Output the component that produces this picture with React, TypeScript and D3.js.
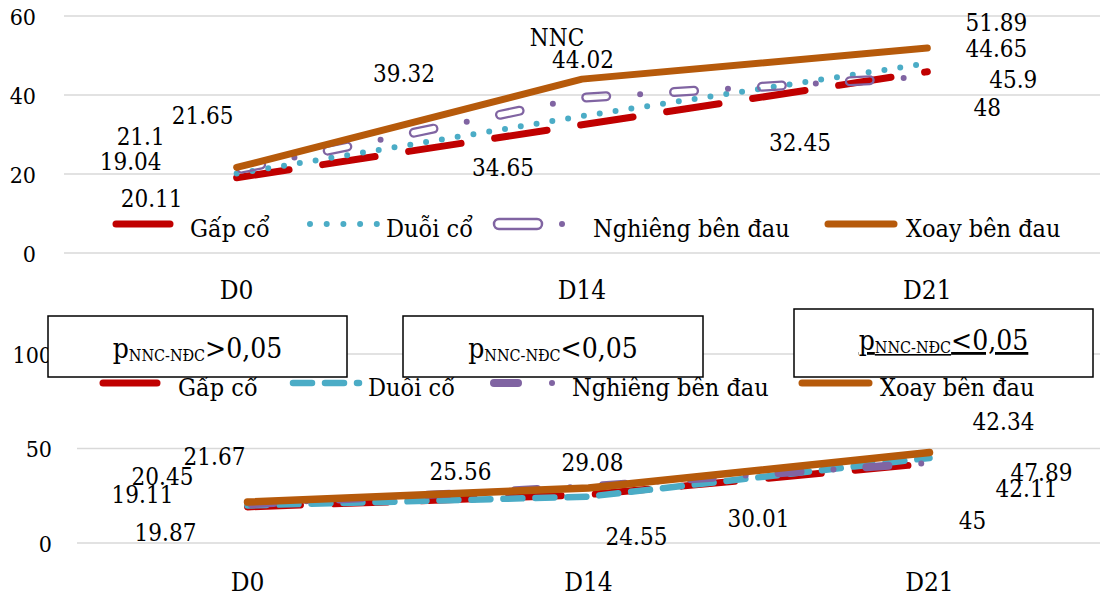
import React from "react";
import * as d3 from "d3";

const categories = ["D0", "D14", "D21"];
const seriesNames = ["Gấp cổ", "Duỗi cổ", "Nghiêng bên đau", "Xoay bên đau"];

// NNC group (top)
const nncGapCo = [19.04, 32.45, 45.9];
const nncDuoiCo = [20.11, 34.65, 48];
const nncNghieng = [21.1, 39.32, 44.65];
const nncXoay = [21.65, 44.02, 51.89];

// NĐC group (bottom)
const ndcGapCo = [19.11, 25.56, 42.11];
const ndcDuoiCo = [19.87, 24.55, 45];
const ndcNghieng = [20.45, 30.01, 42.34];
const ndcXoay = [21.67, 29.08, 47.89];

const topTicks = [0, 20, 40, 60];
const bottomTicks = [0, 50, 100];
const pNotes = [">0,05", "<0,05", "<0,05"];

const FONT = "'DejaVu Serif Condensed', 'DejaVu Serif', serif";
const RED = "#C00000";
const TEAL = "#4BACC6";
const PURPLE = "#8064A2";
const ORANGE = "#B65A0B";
const GRID = "#D9D9D9";

// label offsets (px) from each point, manually dragged in the original
const topLabelOff = [
  [[-106, -16], [218, 18], [86, 8]],
  [[-85, 25], [-79, 51], [60, 44]],
  [[-96, -33], [-178, -24], [69, -28]],
  [[-34, -52], [1, -20], [69, -26]],
];
const botLabelOff = [
  [[-105, -12], [-128, -23], [97, 25]],
  [[-82, 27], [48, 40], [43, 63]],
  [[-85, -28], [170, 32], [74, -41]],
  [[-33, -46], [4, -26], [112, 20]],
];

const topX = d3.scaleBand().domain(categories).range([64, 1100]).padding(0);
const topY = d3.scaleLinear().domain([0, 60]).range([253, 16]);
const botX = d3.scaleBand().domain(categories).range([77, 1100]).padding(0);
const botY = d3.scaleLinear().domain([0, 100]).range([543, 354]);

function pts(vals: number[], x: any, y: any): [number, number][] {
  return vals.map((v, i) => [x(categories[i]) + x.bandwidth() / 2, y(v)]);
}

const line = d3.line();

function Labels({ vals, off, x, y }: any) {
  return (
    <g>
      {pts(vals, x, y).map((p, i) => (
        <text key={i} x={p[0] + off[i][0]} y={p[1] + off[i][1] + 8.5} textAnchor="middle" fontSize={24}>
          {String(vals[i])}
        </text>
      ))}
    </g>
  );
}

export default function App() {
  const topSeries = [nncGapCo, nncDuoiCo, nncNghieng, nncXoay];
  const botSeries = [ndcGapCo, ndcDuoiCo, ndcNghieng, ndcXoay];
  const tp = topSeries.map((s) => line(pts(s, topX, topY)) as string);
  const bp = botSeries.map((s) => line(pts(s, botX, botY)) as string);

  const topLegY = 224;
  const botLegY = 383;
  const boxes = [
    { x: 48, y: 316, w: 299, h: 61, base: 358 },
    { x: 403, y: 316, w: 300, h: 61, base: 358 },
    { x: 794, y: 309, w: 299, h: 68, base: 350 },
  ];

  return (
    <div style={{ position: "absolute", left: 0, top: 0 }}>
      <svg width={1100} height={596} style={{ display: "block" }}>
        <defs>
          <mask id="hollow" maskUnits="userSpaceOnUse" x={0} y={0} width={1100} height={596}>
            <rect x={0} y={0} width={1100} height={596} fill="#fff" />
            <path d={tp[2]} fill="none" stroke="#000" strokeWidth={5.5} strokeLinecap="round"
              strokeDasharray="20 68" strokeDashoffset={-5} />
          </mask>
        </defs>
        <g style={{ fontFamily: FONT, fontStretch: "condensed" }} fill="#000">

        {/* ---------- top panel (NNC) ---------- */}
        {topTicks.map((t) => (
          <g key={t}>
            <line x1={64} x2={1100} y1={topY(t)} y2={topY(t)} stroke={GRID} strokeWidth={1.5} />
            <text x={36} y={topY(t) + 8.5} textAnchor="end" fontSize={23}>{t}</text>
          </g>
        ))}
        {categories.map((c) => (
          <text key={c} x={topX(c)! + topX.bandwidth() / 2} y={299} textAnchor="middle" fontSize={26}>{c}</text>
        ))}

        <path d={tp[0]} fill="none" stroke={RED} strokeWidth={7} strokeLinecap="round" strokeLinejoin="round" strokeDasharray="53 34" />
        <path d={tp[1]} fill="none" stroke={TEAL} strokeWidth={6} strokeLinecap="round" strokeDasharray="0 16" />
        <path d={tp[2]} fill="none" stroke={PURPLE} strokeWidth={10} strokeLinecap="round" strokeDasharray="20 68" strokeDashoffset={-5} mask="url(#hollow)" />
        <path d={tp[2]} fill="none" stroke={PURPLE} strokeWidth={6} strokeLinecap="round" strokeDasharray="0 88" strokeDashoffset={29} />
        <path d={tp[3]} fill="none" stroke={ORANGE} strokeWidth={7} strokeLinecap="round" strokeLinejoin="round" />

        <text x={topX("D14")! + topX.bandwidth() / 2 - 25} y={46} textAnchor="middle" fontSize={24}>NNC</text>
        {topSeries.map((s, i) => (
          <Labels key={i} vals={s} off={topLabelOff[i]} x={topX} y={topY} />
        ))}

        {/* top legend */}
        <line x1={116} x2={170} y1={topLegY} y2={topLegY} stroke={RED} strokeWidth={7} strokeLinecap="round" />
        <text x={190} y={topLegY + 13} fontSize={25}>{seriesNames[0]}</text>
        <line x1={310} x2={378} y1={topLegY} y2={topLegY} stroke={TEAL} strokeWidth={6} strokeLinecap="round" strokeDasharray="0 16.7" />
        <text x={386} y={topLegY + 13} fontSize={25}>{seriesNames[1]}</text>
        <rect x={494} y={topLegY - 5} width={48} height={10} rx={5} fill="none" stroke={PURPLE} strokeWidth={2.5} />
        <circle cx={562} cy={topLegY} r={3} fill={PURPLE} />
        <text x={593} y={topLegY + 13} fontSize={25}>{seriesNames[2]}</text>
        <line x1={828} x2={894} y1={topLegY} y2={topLegY} stroke={ORANGE} strokeWidth={7} strokeLinecap="round" />
        <text x={906} y={topLegY + 13} fontSize={25}>{seriesNames[3]}</text>

        {/* ---------- bottom panel (NĐC) ---------- */}
        {bottomTicks.map((t) => (
          <g key={t}>
            <line x1={77} x2={1100} y1={botY(t)} y2={botY(t)} stroke={GRID} strokeWidth={1.5} />
            <text x={52} y={botY(t) + 8.5} textAnchor="end" fontSize={23}>{t}</text>
          </g>
        ))}
        {categories.map((c) => (
          <text key={c} x={botX(c)! + botX.bandwidth() / 2} y={591} textAnchor="middle" fontSize={26}>{c}</text>
        ))}

        <path d={bp[0]} fill="none" stroke={RED} strokeWidth={7} strokeLinecap="round" strokeLinejoin="round" strokeDasharray="53 34" />
        <path d={bp[1]} fill="none" stroke={TEAL} strokeWidth={6.5} strokeLinecap="round" strokeDasharray="19 13" />
        <path d={bp[2]} fill="none" stroke={PURPLE} strokeWidth={8} strokeLinecap="round" strokeDasharray="22 66" strokeDashoffset={-4} />
        <path d={bp[2]} fill="none" stroke={PURPLE} strokeWidth={6} strokeLinecap="round" strokeDasharray="0 88" strokeDashoffset={29} />
        <path d={bp[3]} fill="none" stroke={ORANGE} strokeWidth={7.5} strokeLinecap="round" strokeLinejoin="round" />

        {botSeries.map((s, i) => (
          <Labels key={i} vals={s} off={botLabelOff[i]} x={botX} y={botY} />
        ))}

        {/* bottom legend */}
        <line x1={103} x2={157} y1={botLegY} y2={botLegY} stroke={RED} strokeWidth={7} strokeLinecap="round" />
        <text x={178} y={botLegY + 13} fontSize={25}>{seriesNames[0]}</text>
        <line x1={293} x2={359} y1={botLegY} y2={botLegY} stroke={TEAL} strokeWidth={6.5} strokeLinecap="round" strokeDasharray="19 13" />
        <text x={368} y={botLegY + 13} fontSize={25}>{seriesNames[1]}</text>
        <line x1={494} x2={518} y1={botLegY} y2={botLegY} stroke={PURPLE} strokeWidth={8} strokeLinecap="round" />
        <circle cx={552} cy={botLegY} r={3} fill={PURPLE} />
        <text x={572} y={botLegY + 13} fontSize={25}>{seriesNames[2]}</text>
        <line x1={802} x2={869} y1={botLegY} y2={botLegY} stroke={ORANGE} strokeWidth={7} strokeLinecap="round" />
        <text x={880} y={botLegY + 13} fontSize={25}>{seriesNames[3]}</text>

        {/* p-value boxes */}
        {boxes.map((b, i) => (
          <g key={i}>
            <rect x={b.x} y={b.y} width={b.w} height={b.h} fill="#fff" stroke="#000" strokeWidth={1.5} />
            <text x={b.x + b.w / 2} y={b.base} textAnchor="middle" fontSize={28}
              textDecoration={i === 2 ? "underline" : undefined}>
              p<tspan fontSize={16} dy={3}>NNC-NĐC</tspan><tspan dy={-3}>{pNotes[i]}</tspan>
            </text>
          </g>
        ))}
        </g>
      </svg>
    </div>
  );
}
